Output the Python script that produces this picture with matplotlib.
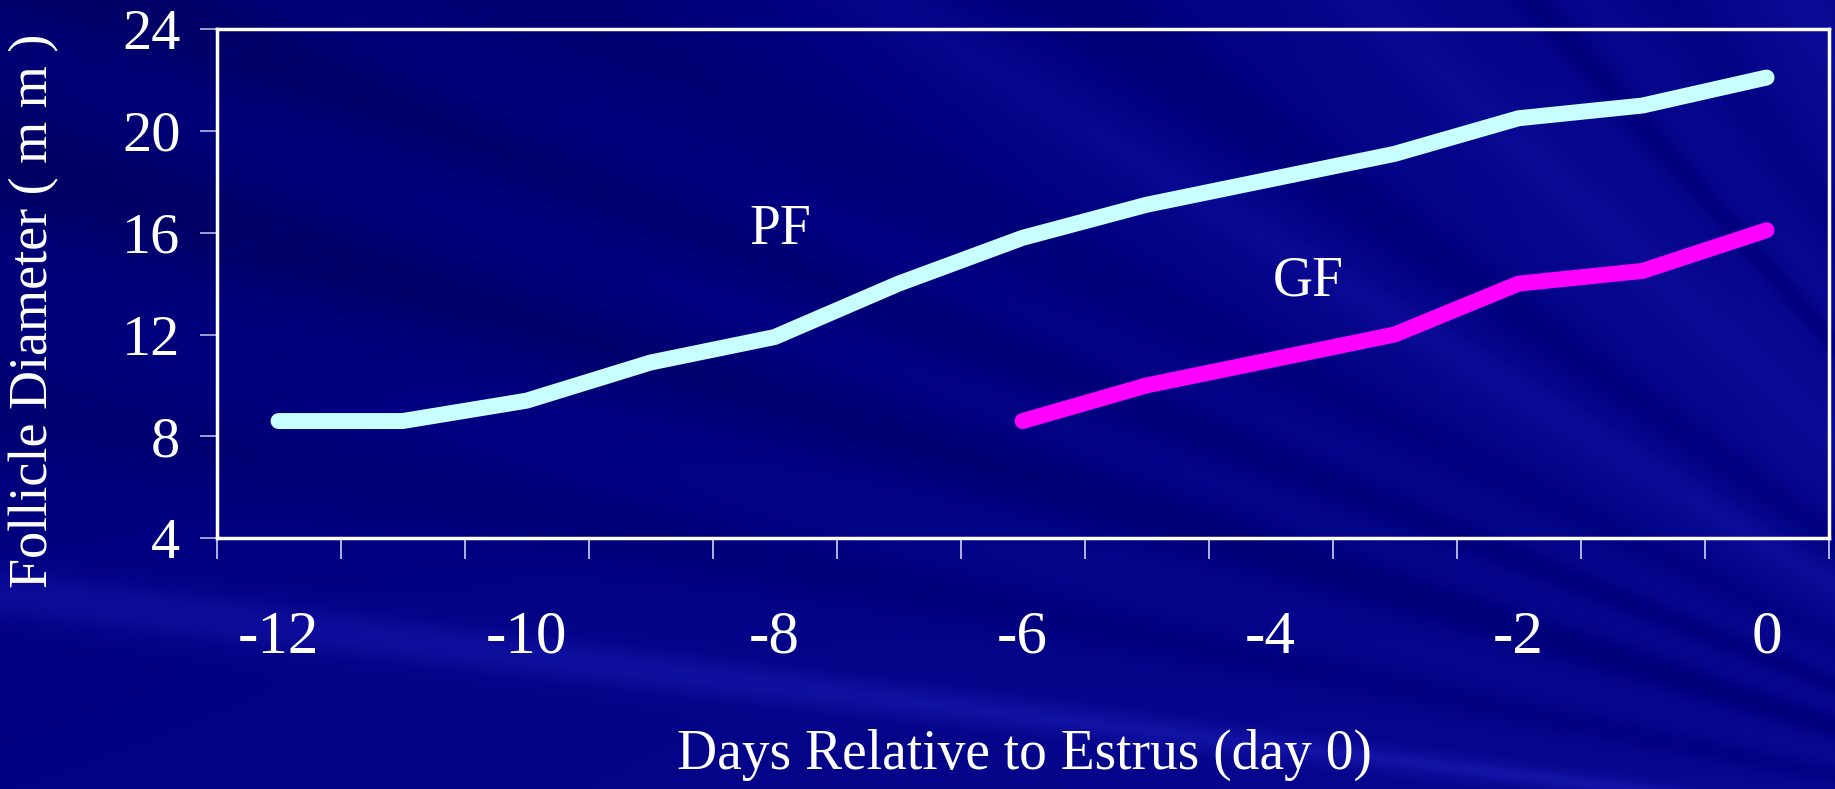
import matplotlib as mpl
mpl.use('Agg')  # headless mode
import matplotlib.pyplot as plt
from matplotlib.colors import LinearSegmentedColormap
import numpy as np

# data
days = [-12, -11, -10, -9, -8, -7, -6, -5, -4, -3, -2, -1, 0]
pf_diameter = [8.6, 8.6, 9.4, 10.9, 11.9, 14.0, 15.8, 17.1, 18.1, 19.1, 20.5, 21.0, 22.1]
gf_days = [-6, -5, -4, -3, -2, -1, 0]
gf_diameter = [8.6, 10.0, 11.0, 12.0, 14.0, 14.5, 16.1]
y_ticks = [4, 8, 12, 16, 20, 24]
x_tick_days = [-12, -10, -8, -6, -4, -2, 0]

plt.rcParams['font.family'] = ['Liberation Serif', 'DejaVu Serif']
plt.rcParams['axes.unicode_minus'] = False

fig = plt.figure(figsize=(18.35, 7.89), dpi=100)

# background: navy with diagonal streaks radiating from the lower right
bg = fig.add_axes([0, 0, 1, 1])
bg.axis('off')
h, w = 400, 930
yy, xx = np.mgrid[0:h, 0:w]
fx, fy = w * 1.25, h * 1.1
theta = np.arctan2(fy - yy, fx - xx)
shade = 0.55 + 0.15 * (xx / w) - 0.2 * (1 - yy / h) * (1 - xx / w)
for ang, width, amp in [(0.30, 0.025, -0.25), (0.38, 0.02, -0.2), (0.46, 0.03, -0.15),
                        (0.55, 0.02, 0.12), (0.62, 0.03, -0.18), (0.75, 0.025, 0.1),
                        (0.95, 0.03, -0.12), (0.12, 0.012, 0.3), (0.2, 0.02, -0.15),
                        (0.85, 0.015, -0.2), (1.05, 0.02, 0.1)]:
    shade += amp * np.exp(-((theta - ang) / width) ** 2)
shade = np.clip(shade, 0, 1)
cmap = LinearSegmentedColormap.from_list('navy', ['#000058', '#000080', '#1414a8'])
bg.imshow(shade, cmap=cmap, aspect='auto', extent=[0, 1, 0, 1], vmin=0, vmax=1)
bg.set_xlim(0, 1)
bg.set_ylim(0, 1)

ax = fig.add_axes([0.118, 0.318, 0.8785, 0.645])
ax.set_facecolor('none')

ax.plot(days, pf_diameter, color='#c8ffff', lw=11.5, solid_capstyle='round', solid_joinstyle='round')
ax.plot(gf_days, gf_diameter, color='#ff00ff', lw=11.5, solid_capstyle='round', solid_joinstyle='round')

ax.text(-7.95, 16.1, 'PF', color='white', fontsize=40, ha='center', va='center')
ax.text(-3.7, 14.1, 'GF', color='white', fontsize=40, ha='center', va='center')

ax.set_xlim(-12.5, 0.5)
ax.set_ylim(4, 24)
ax.set_yticks(y_ticks)
ax.set_xticks(x_tick_days)
ax.set_xticks(np.arange(-12.5, 1.0, 1.0), minor=True)

for sp in ax.spines.values():
    sp.set_color('white')
    sp.set_linewidth(2.5)

ax.tick_params(axis='y', colors='white', labelsize=42, length=12, width=1.2, pad=14)
ax.tick_params(axis='y', color='#b8b8e0')
ax.tick_params(axis='x', which='major', length=0, colors='white', labelsize=44, pad=52)
ax.tick_params(axis='x', which='minor', length=15, width=1.2, color='#d0d0f0')

ax.set_xlabel('Days Relative to Estrus (day 0)', color='white', fontsize=40, va='center')
ax.xaxis.set_label_coords(0.501, -0.426)
ax.set_ylabel('Follicle Diameter ( m m )', color='white', fontsize=39, va='center')
ax.yaxis.set_label_coords(-0.113, 0.447)

fig.savefig('out.png', dpi=100)
